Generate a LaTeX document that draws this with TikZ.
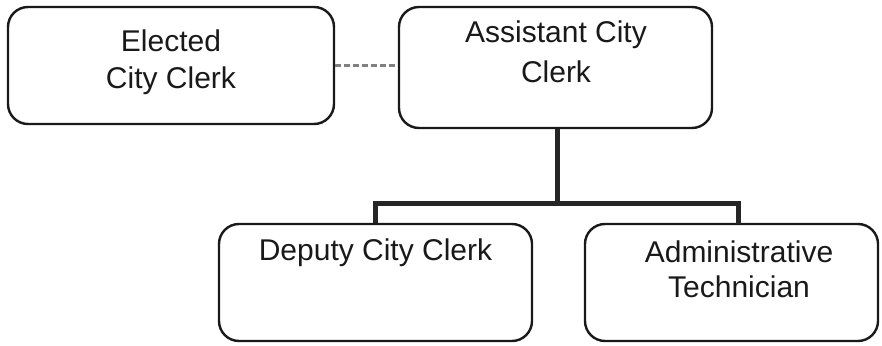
\documentclass[tikz,border=0pt]{standalone}
\usepackage{fontspec}
\setmainfont{Liberation Sans}
\begin{document}
\begin{tikzpicture}[x=1pt,y=1pt,
  box/.style={draw=black!90, line width=2.4pt, rounded corners=20pt, rectangle, inner sep=0pt},
  lbl/.style={anchor=base, inner sep=0pt, text=black!90, font=\fontsize{30}{36}\selectfont},
  trunk/.style={draw=black!85, line width=5pt},
  dotlink/.style={draw=black!50, line width=2.5pt, dash pattern=on 6pt off 3pt}]
\useasboundingbox (0,0) rectangle (882,-345);

% boxes
\node[box, minimum width=326pt, minimum height=117pt] (elected) at (171,-65.5) {};
\node[box, minimum width=313pt, minimum height=121pt] (asst) at (555.5,-67.5) {};
\node[box, minimum width=313pt, minimum height=117pt] (deputy) at (375.5,-282.5) {};
\node[box, minimum width=293pt, minimum height=117pt] (admin) at (731.5,-282.5) {};

% titles
\node[lbl] (e1) at (171,-52) {Elected};
\node[lbl] (e2) at (171,-88) {City Clerk};
\node[lbl] (a1) at (556,-42) {Assistant City};
\node[lbl] (a2) at (556,-82) {Clerk};
\node[lbl] (d1) at (375.5,-260) {Deputy City Clerk};
\node[lbl] (t1) at (739,-262) {Administrative};
\node[lbl] (t2) at (739,-297) {Technician};

% connectors
\coordinate (jn) at (557,-203);
\coordinate (admtop) at (738,-224);
\draw[dotlink] (elected.east) -- (elected.east -| asst.west);
\draw[trunk] (jn |- asst.south) -- (jn);
\draw[trunk, line join=miter] (deputy.north -| 375,0) |- (jn) -| (admtop);
\end{tikzpicture}
\end{document}
